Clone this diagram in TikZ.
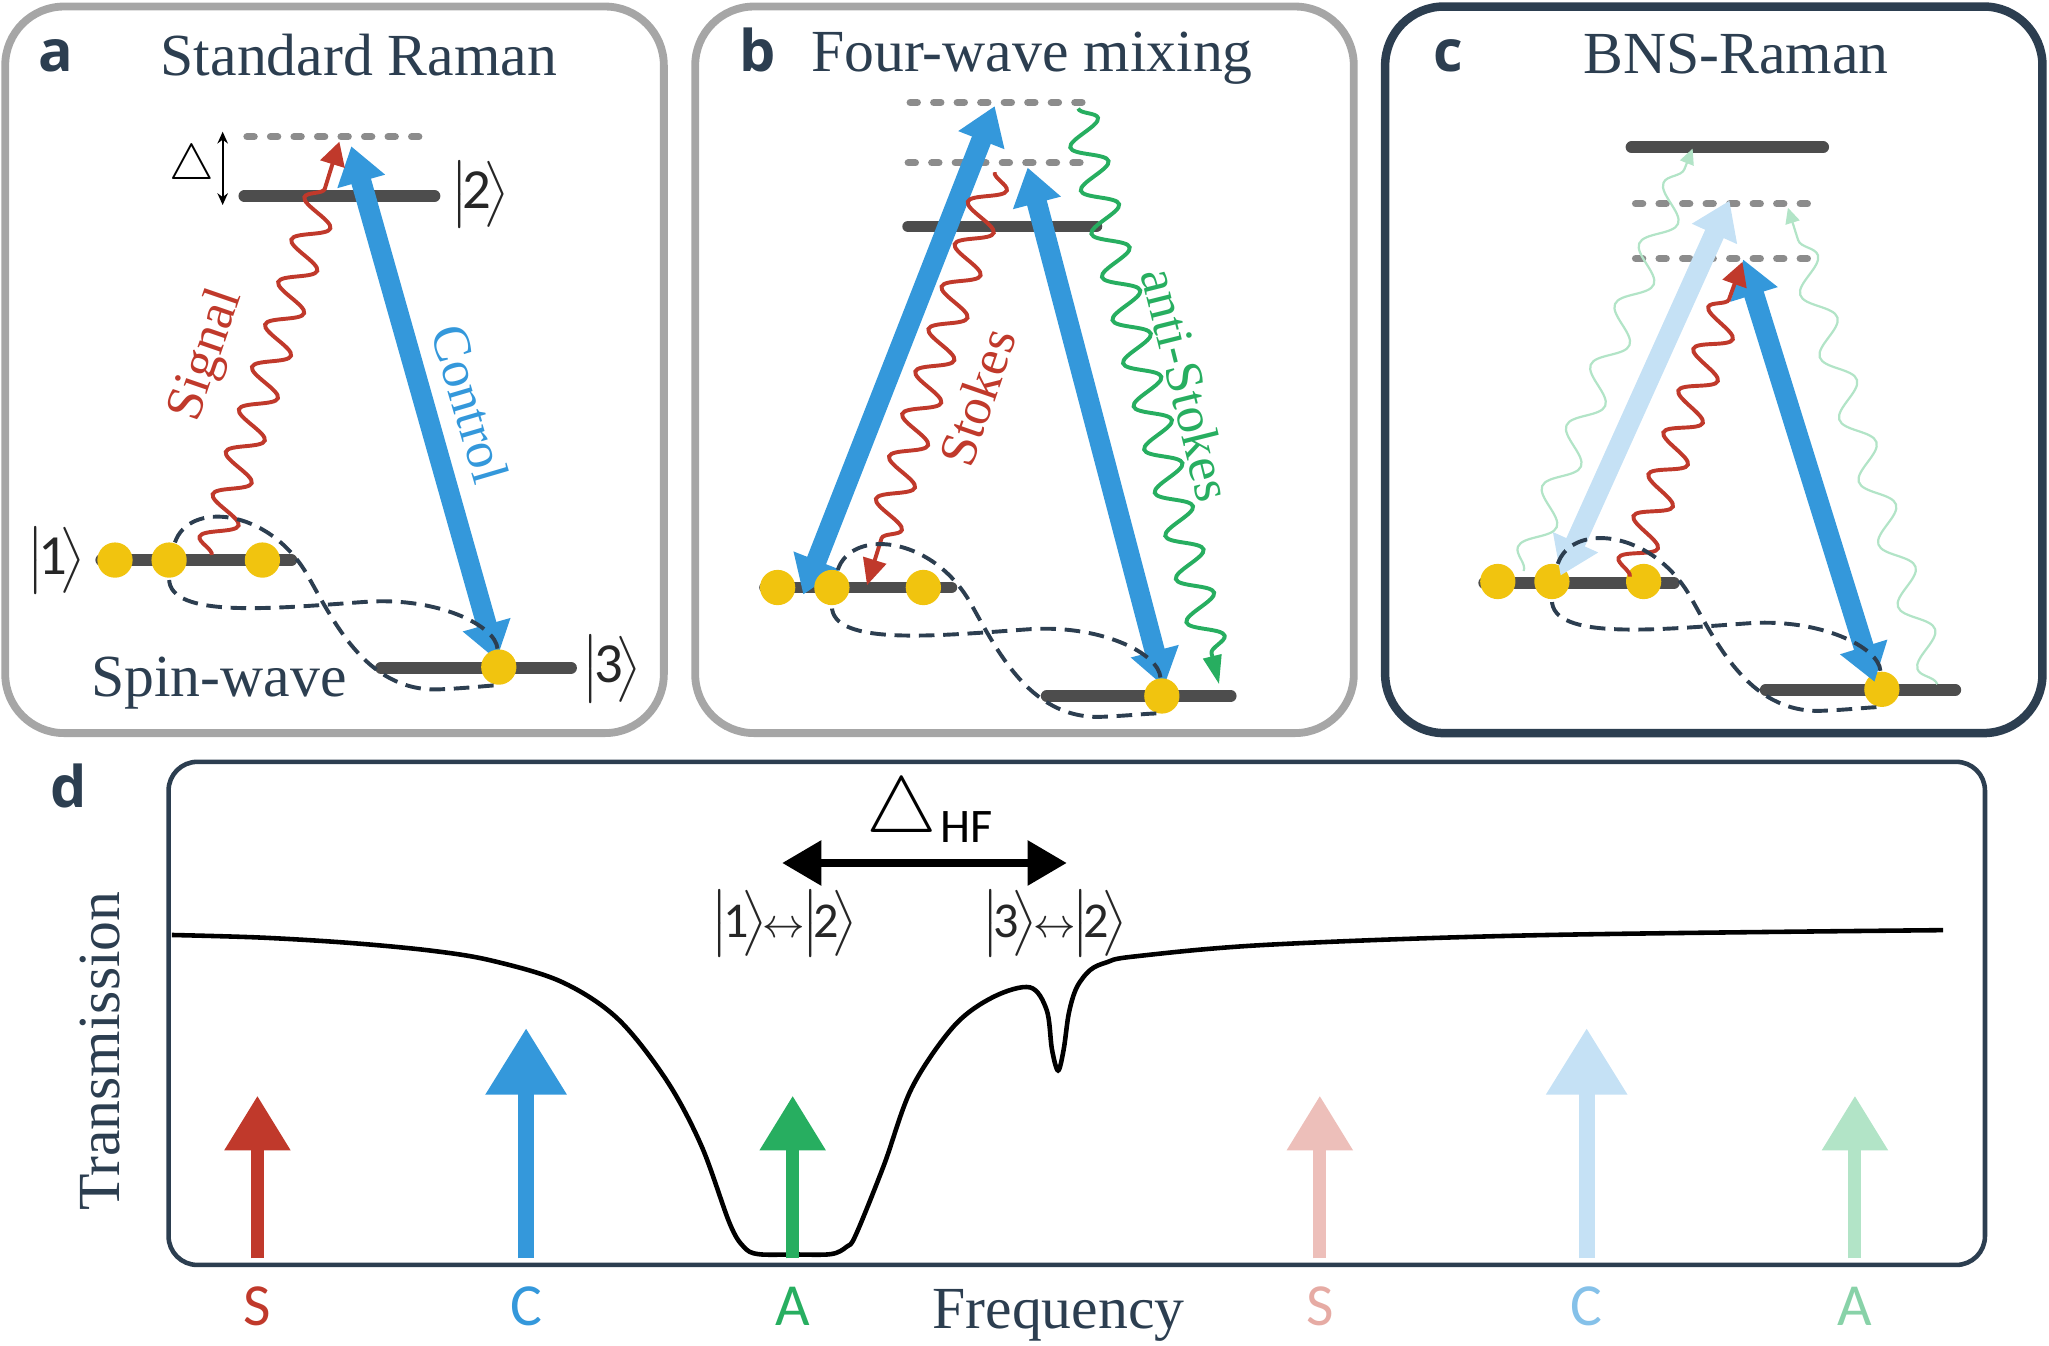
\documentclass[tikz,border=0pt]{standalone}
\usepackage{amsmath}
\usepackage{fontspec}
\setmainfont{Liberation Serif}
\newfontfamily\kfont{Carlito}
\newfontfamily\kdig{Carlito}[Scale=0.95]
\newfontfamily\pfont{Open Sans}
\usetikzlibrary{arrows.meta,decorations.pathmorphing}

\definecolor{Navy}      {RGB}{44,62,80}
\definecolor{FrameGray} {RGB}{166,166,166}
\definecolor{LevelGray} {RGB}{77,77,77}
\definecolor{VirtGray}  {RGB}{140,140,140}
\definecolor{AtomGold}  {RGB}{241,196,15}
\definecolor{CtrlBlue}  {RGB}{52,152,219}
\definecolor{PaleBlue}  {RGB}{197,225,245}
\definecolor{SigRed}    {RGB}{192,57,43}
\definecolor{PaleRed}   {RGB}{237,191,186}
\definecolor{AsGreen}   {RGB}{39,174,96}
\definecolor{PaleGreen} {RGB}{178,228,199}

\newcommand{\ketlbl}[1]{$\big|\mkern-2mu\mbox{\kdig #1}\mkern-2.5mu\big\rangle$}
\newcommand{\kto}{\kern-0.08em{\fontsize{9}{10}\selectfont$\leftrightarrow$}\kern-0.08em}
% dashed spin-wave loop, relative to the middle atom on |1>
\newcommand{\spinwave}[2]{%
  \draw[spinw,shift={(#1)}] (#1) .. controls (15,-45) and (75,-40) .. (105,10)
    .. controls (125,45) and (150,100) .. (205,99)
    .. controls (232,98) and (252,95) .. (#2)
    .. controls (250,50) and (205,28) .. (150,32)
    .. controls (80,37) and (0,45) .. (#1);}

\begin{document}
\begin{tikzpicture}[x=0.1mm,y=-0.1mm,
  panel/.style={rounded corners=4.5mm,line width=0.6mm},
  ttl/.style={anchor=base,text=Navy,font=\fontsize{13}{15}\selectfont},
  plabel/.style={anchor=base,text=Navy,font=\pfont\bfseries\fontsize{12.5}{14}\selectfont},
  ketl/.style={text=black!85,font=\kfont\fontsize{13}{15.5}\selectfont},
  lbl/.style={font=\fontsize{11.5}{13}\selectfont},
  lvl/.style={line width=0.9mm,draw=LevelGray,line cap=round},
  virt/.style={line width=0.55mm,draw=VirtGray,line cap=round,
               dash pattern=on 0.55mm off 1.25mm},
  atom/.style={circle,fill=AtomGold,minimum size=2.7mm,inner sep=0pt},
  pump/.style={line width=1.55mm,
               {Triangle[length=2.8mm,width=3.6mm]}-{Triangle[length=2.8mm,width=3.6mm]}},
  photon/.style={line width=0.3mm,decorate,
               decoration={snake,amplitude=1.3mm,segment length=3.4mm,post length=2.2mm}},
  faint/.style={line width=0.17mm,draw=PaleGreen,decorate,
               decoration={snake,amplitude=1.1mm,segment length=5mm,post length=1.5mm},
               -{Triangle[length=1.2mm,width=1.1mm]}},
  spinw/.style={draw=Navy,line width=0.85pt,dash pattern=on 3.4pt off 1.9pt},
  detune/.style={line width=0.15mm,
               {Stealth[length=0.9mm,width=0.8mm]}-{Stealth[length=0.9mm,width=0.8mm]}},
  freq/.style={line width=1mm,-{Triangle[length=4.2mm,width=4.8mm]}},
  freqc/.style={line width=1.2mm,-{Triangle[length=5.1mm,width=5.9mm]}},
  flbl/.style={anchor=base,font=\kfont\fontsize{13}{15}\selectfont},
  tcurve/.style={line width=0.35mm,black}]

\useasboundingbox (0,0) rectangle (1568,1030);

% frames
\draw[panel,FrameGray] (4,5) rectangle (508,561);
\draw[panel,FrameGray] (532,5) rectangle (1036,561);
\draw[panel,Navy,line width=0.65mm] (1060,5) rectangle (1563,561);
\draw[Navy,line width=0.35mm,rounded corners=2.2mm] (129,583) rectangle (1519,968);

% ---- a: standard Raman
\node[plabel] at (43,55) {a};
\node[ttl] at (274.6,57.5) {Standard Raman};
\draw[virt] (189,104.7) -- (321,104.7);
\draw[lvl] (187,150) -- (332.5,150);
\draw[lvl] (77.5,428.6) -- (223,428.6);
\draw[lvl] (291.5,511) -- (437,511);
\node[ketl] (k2a) at (367.5,149) {\ketlbl{2}};
\node[ketl] (k1a) at (43,429) {\ketlbl{1}};
\node[ketl] (k3a) at (468,512) {\ketlbl{3}};
\node[font=\fontsize{11}{12}\selectfont] (dla) at (147,128) {$\triangle$};
\coordinate (aDt) at (170.4,100.8);
\coordinate (aDb) at (170.4,156.9);
\draw[detune] (aDt) -- (aDb);
\coordinate (aCt) at (268.8,111.9);
\coordinate (aCb) at (380,505);
\draw[pump,CtrlBlue] (aCb) -- (aCt);
\coordinate (aSs) at (162,424.7);
\coordinate (aSe) at (259.7,108.4);
\draw[photon,SigRed,-{Triangle[length=1.8mm,width=1.9mm]}] (aSs) -- (aSe);
\node[atom] (aL) at (88,428.6) {};
\node[atom] (aM) at (129.4,428.6) {};
\node[atom] (aR) at (200.8,428.6) {};
\node[atom] (aT) at (381.7,510.5) {};
\spinwave{aM}{aT}
\node[lbl,text=SigRed,rotate=71] at (158.5,272) {Signal};
\node[lbl,text=CtrlBlue,rotate=-73.6] at (360,309) {Control};
\node[ttl] at (167.5,533) {Spin-wave};

% ---- b: four-wave mixing
\node[plabel] at (580,55) {b};
\node[ttl] at (789.8,55) {Four-wave mixing};
\draw[virt] (696.5,78.4) -- (836,78.4);
\draw[virt] (695,124.6) -- (827.5,124.6);
\draw[lvl] (695,173.3) -- (839,173.3);
\draw[lvl] (585.5,449.6) -- (728,449.6);
\draw[lvl] (801,532.6) -- (941.8,532.6);
\coordinate (bPt) at (761.2,81.2);
\coordinate (bPb) at (614.7,455);
\draw[pump,CtrlBlue] (bPb) -- (bPt);
\coordinate (bQt) at (786.4,128.2);
\coordinate (bQb) at (890.8,525.4);
\draw[pump,CtrlBlue] (bQt) -- (bQb);
\coordinate (bSs) at (761.2,131.8);
\coordinate (bSe) at (663.5,447.8);
\draw[photon,SigRed,-{Triangle[length=2mm,width=1.8mm]}] (bSs) -- (bSe);
\coordinate (bAs) at (825.1,83);
\coordinate (bAe) at (932.9,523.6);
\draw[photon,AsGreen,-{Triangle[length=2.2mm,width=1.4mm]}] (bAs) -- (bAe);
\node[atom] (bL) at (595.1,449.6) {};
\node[atom] (bM) at (636.6,449.6) {};
\node[atom] (bR) at (706.6,449.6) {};
\node[atom] (bT) at (889.1,532.6) {};
\spinwave{bM}{bT}
\node[lbl,text=SigRed,rotate=71] at (747.7,304) {Stokes};
\node[lbl,text=AsGreen,rotate=-76] at (908.5,294.3) {anti-Stokes};

% ---- c: BNS-Raman
\node[plabel] at (1108,55) {c};
\node[ttl] at (1328.4,56) {BNS-Raman};
\draw[lvl] (1248.5,112.7) -- (1395.2,112.7);
\draw[virt] (1251.6,156) -- (1387,156);
\draw[virt] (1251.6,197.9) -- (1387,197.9);
\draw[lvl] (1135.8,446) -- (1281,446);
\draw[lvl] (1351.2,527.9) -- (1496.3,527.9);
\coordinate (cGs) at (1166,437);
\coordinate (cGe) at (1295.3,113.7);
\draw[faint] (cGs) -- (cGe);
\coordinate (cHs) at (1482.5,523.6);
\coordinate (cHe) at (1368.2,158.9);
\draw[faint] (cHs) -- (cHe);
\node[atom] (cL) at (1146.2,445) {};
\node[atom] (cM) at (1187.6,445) {};
\node[atom] (cR) at (1257.8,445) {};
\node[atom] (cT) at (1440.1,527.5) {};
\coordinate (cPt) at (1323.5,153.5);
\coordinate (cPb) at (1194.2,440.5);
\draw[pump,PaleBlue] (cPb) -- (cPt);
\coordinate (cQt) at (1334,198.6);
\coordinate (cQb) at (1434.5,521.8);
\draw[pump,CtrlBlue] (cQt) -- (cQb);
\coordinate (cSs) at (1247.2,441.3);
\coordinate (cSe) at (1333.4,200.4);
\draw[photon,SigRed,-{Triangle[length=1.8mm,width=1.9mm]}] (cSs) -- (cSe);
\spinwave{cM}{cT}

% ---- d: transmission spectrum
\node[plabel] at (52.2,618) {d};
\node[ttl,rotate=90] at (91.3,804.4) {Transmission};
\node[ttl] at (810,1017) {Frequency};
\draw[tcurve] plot[smooth,tension=0.55] coordinates {(131.5,715.5) (200,717.5)
  (268,721.6) (330,727.5) (375.8,735) (429.4,751.2) (472.4,779.3) (510,826.6)
  (536.8,876.9) (558.3,936) (569,954) (580,959.7) (608,960) (636,959.7) (648,954)
  (654.9,945) (676.4,891.7) (697.8,832.5) (730,785.2) (760,763) (788.2,755.6)
  (801,773) (805,803) (809.7,819.2) (814,803) (818,775) (824,755.6) (834.3,742.3)
  (847,736.4) (867.6,732) (970,723) (1174.8,715.7) (1487,711.8)};
\coordinate (dLt) at (598.5,660.4);
\coordinate (dRt) at (816.4,660.4);
\draw[line width=0.65mm,{Triangle[length=3mm,width=3.3mm]}-{Triangle[length=3mm,width=3.3mm]}] (dLt) -- (dRt);
\node[anchor=base,font=\fontsize{17}{18}\selectfont] (dHF) at (689.8,637.3) {$\triangle$};
\node[anchor=base west,inner sep=0pt,font=\kfont\fontsize{10.5}{12}\selectfont] at (719,645) {HF};
\node[ketl,font=\kfont\fontsize{11.5}{13.5}\selectfont] at (600,706.8) {\ketlbl{1}\kto\ketlbl{2}};
\node[ketl,font=\kfont\fontsize{11.5}{13.5}\selectfont] at (807,706.8) {\ketlbl{3}\kto\ketlbl{2}};
% probe arrows
\coordinate (sB) at (197,963);     \coordinate (sT) at (197,838.4);
\coordinate (cB) at (402.6,963);   \coordinate (cTp) at (402.6,786.7);
\coordinate (aB) at (606.6,963);   \coordinate (aTp) at (606.6,838.4);
\coordinate (s2B) at (1010,963);   \coordinate (s2T) at (1010,838.4);
\coordinate (c2B) at (1214.2,963); \coordinate (c2T) at (1214.2,786.7);
\coordinate (a2B) at (1419.5,963); \coordinate (a2T) at (1419.5,838.4);
\draw[freq,SigRed] (sB) -- (sT);
\draw[freqc,CtrlBlue] (cB) -- (cTp);
\draw[freq,AsGreen] (aB) -- (aTp);
\draw[freq,PaleRed] (s2B) -- (s2T);
\draw[freqc,PaleBlue] (c2B) -- (c2T);
\draw[freq,PaleGreen] (a2B) -- (a2T);
\node[flbl,text=SigRed] at (197,1014) {S};
\node[flbl,text=CtrlBlue] at (402.6,1014) {C};
\node[flbl,text=AsGreen] at (606.6,1014) {A};
\node[flbl,text=PaleRed!85!SigRed] at (1010,1014) {S};
\node[flbl,text=CtrlBlue!60] at (1214.2,1014) {C};
\node[flbl,text=AsGreen!55] at (1419.5,1014) {A};
\end{tikzpicture}
\end{document}
